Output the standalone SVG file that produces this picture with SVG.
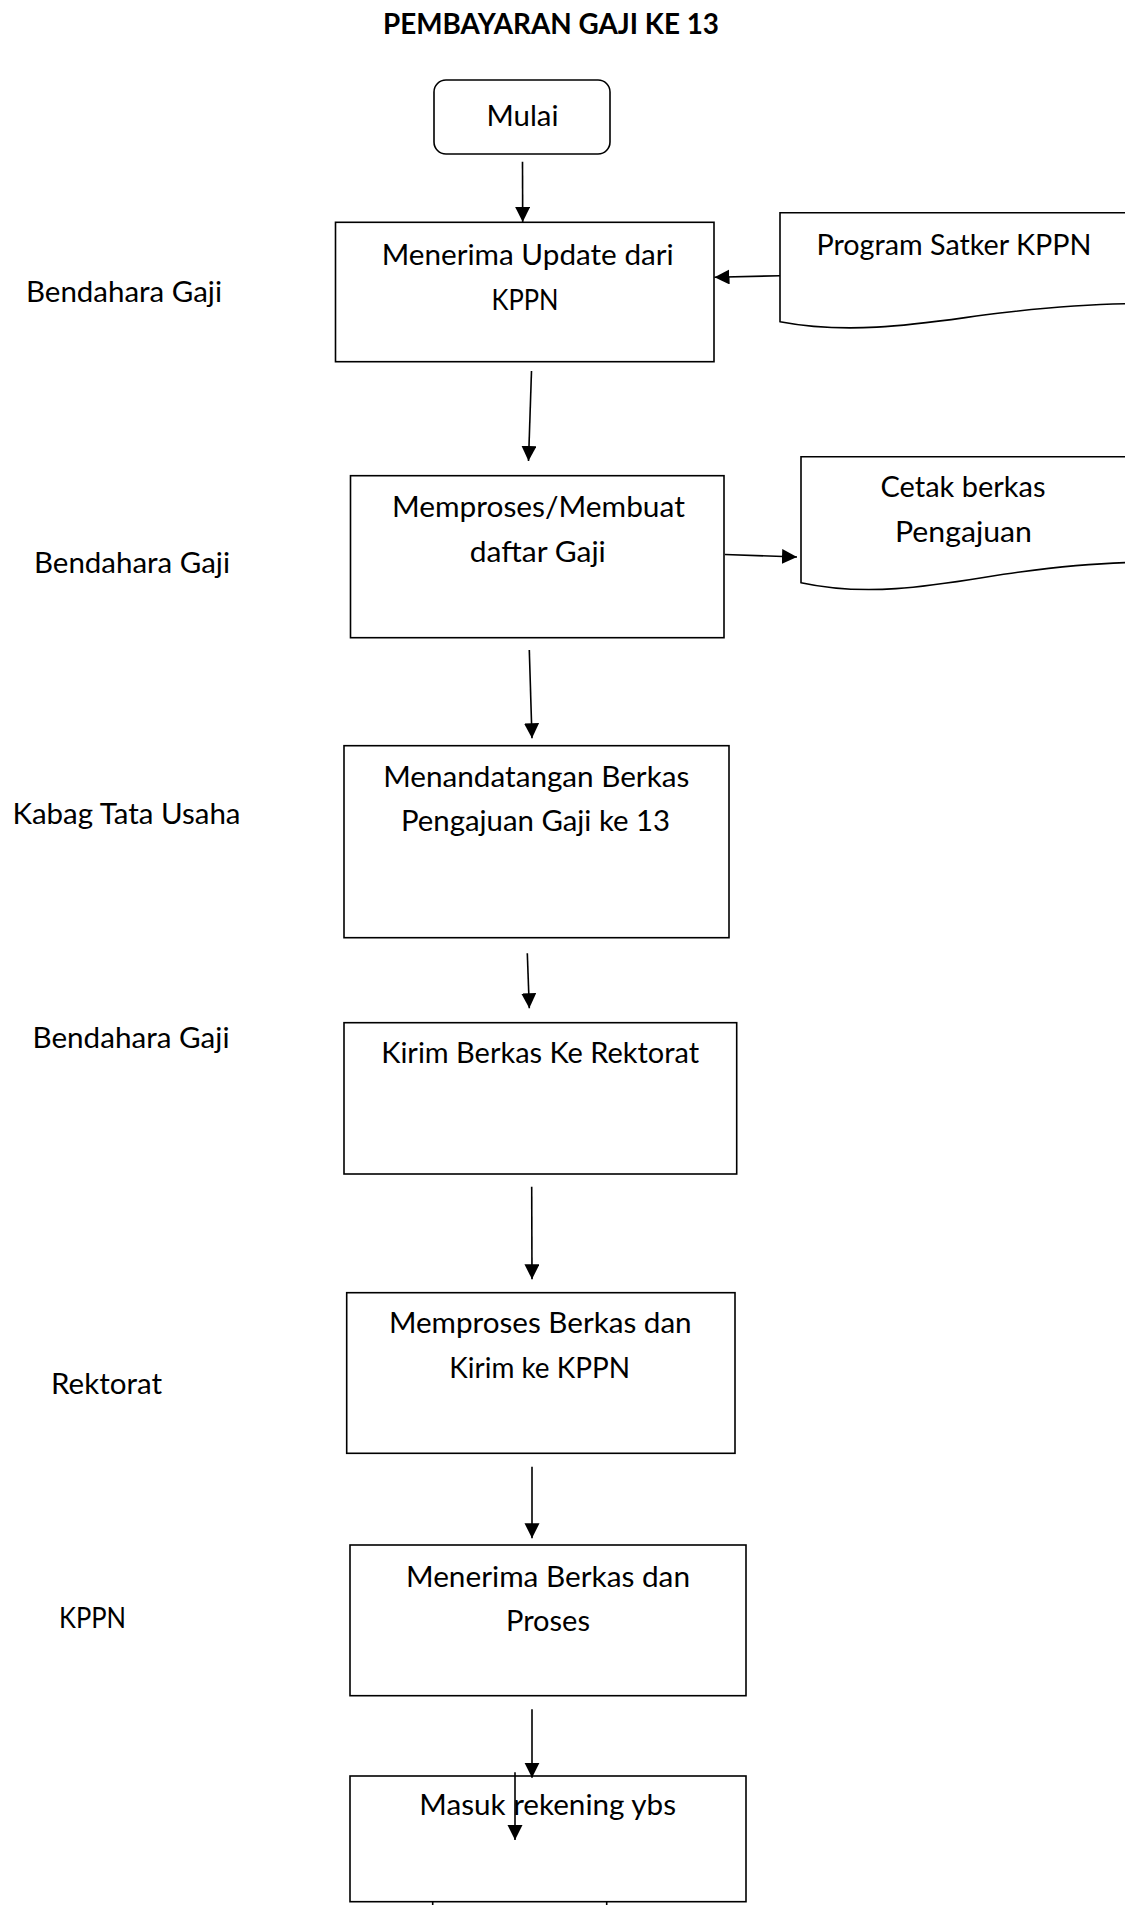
<svg xmlns="http://www.w3.org/2000/svg" width="1125" height="1905" viewBox="0 0 1125 1905">
  <style>
    text { font-family: Lato, "Open Sans", "Liberation Sans", sans-serif; font-size: 28px; fill: #000; }
    .title { font-weight: bold; }
    .mid { text-anchor: middle; }
    .box { fill: #fff; stroke: #000; stroke-width: 1.6; }
    .doc { fill: #fff; stroke: #000; stroke-width: 1.6; }
    .edge { fill: none; stroke: #000; stroke-width: 1.6; }
    .arrow { marker-end: url(#head); }
  </style>
  <defs>
    <marker id="head" markerUnits="userSpaceOnUse" markerWidth="16" markerHeight="16" refX="15" refY="7.5" orient="auto">
      <path d="M0,0 L15,7.5 L0,15 z" fill="#000"/>
    </marker>
  </defs>

  <rect width="1125" height="1905" fill="#fff"/>

  <text class="title mid" x="551" y="34" textLength="336" lengthAdjust="spacingAndGlyphs">PEMBAYARAN GAJI KE 13</text>

  <!-- role labels on the left -->
  <g id="roles">
    <text x="26" y="301.5" textLength="196" lengthAdjust="spacingAndGlyphs">Bendahara Gaji</text>
    <text x="34" y="573" textLength="196" lengthAdjust="spacingAndGlyphs">Bendahara Gaji</text>
    <text x="12.5" y="824" textLength="228" lengthAdjust="spacingAndGlyphs">Kabag Tata Usaha</text>
    <text x="32.5" y="1048" textLength="197" lengthAdjust="spacingAndGlyphs">Bendahara Gaji</text>
    <text x="51" y="1394" textLength="111" lengthAdjust="spacingAndGlyphs">Rektorat</text>
    <text x="59" y="1628" textLength="67" lengthAdjust="spacingAndGlyphs">KPPN</text>
  </g>

  <g id="mulai">
    <rect class="box" x="434" y="80" width="176" height="74" rx="12" ry="12"/>
    <text class="mid" x="522.5" y="125.7" textLength="72" lengthAdjust="spacingAndGlyphs">Mulai</text>
  </g>

  <g id="terima-update">
    <rect class="box" x="335.5" y="222.3" width="378.5" height="139.4"/>
    <text class="mid" x="527.7" y="265" textLength="292" lengthAdjust="spacingAndGlyphs">Menerima Update dari</text>
    <text class="mid" x="525" y="310" textLength="67" lengthAdjust="spacingAndGlyphs">KPPN</text>
  </g>

  <g id="program-satker">
    <path class="doc" d="M1130,212.7 L780,212.7 L780,321.7 C860,337 940,320 1000,313 C1060,306 1100,304 1130,303.7"/>
    <text class="mid" x="954" y="255" textLength="275" lengthAdjust="spacingAndGlyphs">Program Satker KPPN</text>
  </g>

  <g id="buat-daftar">
    <rect class="box" x="350.5" y="475.7" width="373.5" height="162"/>
    <text class="mid" x="538.4" y="516.7" textLength="293" lengthAdjust="spacingAndGlyphs">Memproses/Membuat</text>
    <text class="mid" x="537.8" y="561.7" textLength="136" lengthAdjust="spacingAndGlyphs">daftar Gaji</text>
  </g>

  <g id="cetak-berkas">
    <path class="doc" d="M1130,456.7 L801,456.7 L801,582.7 C880,600 960,580 1020,572 C1080,564 1110,563 1130,562.5"/>
    <text class="mid" x="963" y="497" textLength="165" lengthAdjust="spacingAndGlyphs">Cetak berkas</text>
    <text class="mid" x="963.5" y="542" textLength="137" lengthAdjust="spacingAndGlyphs">Pengajuan</text>
  </g>

  <g id="tanda-tangan">
    <rect class="box" x="344" y="745.7" width="385" height="192"/>
    <text class="mid" x="536.3" y="786.7" textLength="306" lengthAdjust="spacingAndGlyphs">Menandatangan Berkas</text>
    <text class="mid" x="535.5" y="831" textLength="269" lengthAdjust="spacingAndGlyphs">Pengajuan Gaji ke 13</text>
  </g>

  <g id="kirim-rektorat">
    <rect class="box" x="344" y="1022.7" width="392.7" height="151.3"/>
    <text class="mid" x="540.2" y="1063.3" textLength="318" lengthAdjust="spacingAndGlyphs">Kirim Berkas Ke Rektorat</text>
  </g>

  <g id="proses-rektorat">
    <rect class="box" x="346.7" y="1292.7" width="388.3" height="160.6"/>
    <text class="mid" x="540.3" y="1333.3" textLength="302.7" lengthAdjust="spacingAndGlyphs">Memproses Berkas dan</text>
    <text class="mid" x="539.7" y="1378.3" textLength="180.7" lengthAdjust="spacingAndGlyphs">Kirim ke KPPN</text>
  </g>

  <g id="proses-kppn">
    <rect class="box" x="350" y="1545" width="396" height="150.7"/>
    <text class="mid" x="548" y="1586.7" textLength="284" lengthAdjust="spacingAndGlyphs">Menerima Berkas dan</text>
    <text class="mid" x="548" y="1631" textLength="84" lengthAdjust="spacingAndGlyphs">Proses</text>
  </g>

  <g id="masuk-rekening">
    <rect class="box" x="350" y="1776" width="396" height="125.7"/>
    <text class="mid" x="547.7" y="1815" textLength="256.7" lengthAdjust="spacingAndGlyphs">Masuk rekening ybs</text>
  </g>

  <!-- connectors -->
  <g id="connectors">
    <line class="edge arrow" x1="522.5" y1="161.7" x2="522.7" y2="222"/>
    <line class="edge arrow" x1="780" y1="275.7" x2="714.5" y2="277.3"/>
    <line class="edge arrow" x1="531.5" y1="371" x2="528.5" y2="461"/>
    <line class="edge arrow" x1="725" y1="554.5" x2="797" y2="557"/>
    <line class="edge arrow" x1="529.3" y1="650" x2="532" y2="738.3"/>
    <line class="edge arrow" x1="527.3" y1="953.3" x2="529.3" y2="1008.3"/>
    <line class="edge arrow" x1="531.7" y1="1186.7" x2="532" y2="1279.3"/>
    <line class="edge arrow" x1="532" y1="1466.7" x2="532" y2="1538.3"/>
    <line class="edge arrow" x1="532" y1="1709.3" x2="532" y2="1777.7"/>
    <line class="edge arrow" x1="515" y1="1772.3" x2="515" y2="1840"/>
    <line class="edge" x1="432.7" y1="1901.7" x2="432.7" y2="1905"/>
    <line class="edge" x1="606.7" y1="1901.7" x2="606.7" y2="1905"/>
  </g>
</svg>
